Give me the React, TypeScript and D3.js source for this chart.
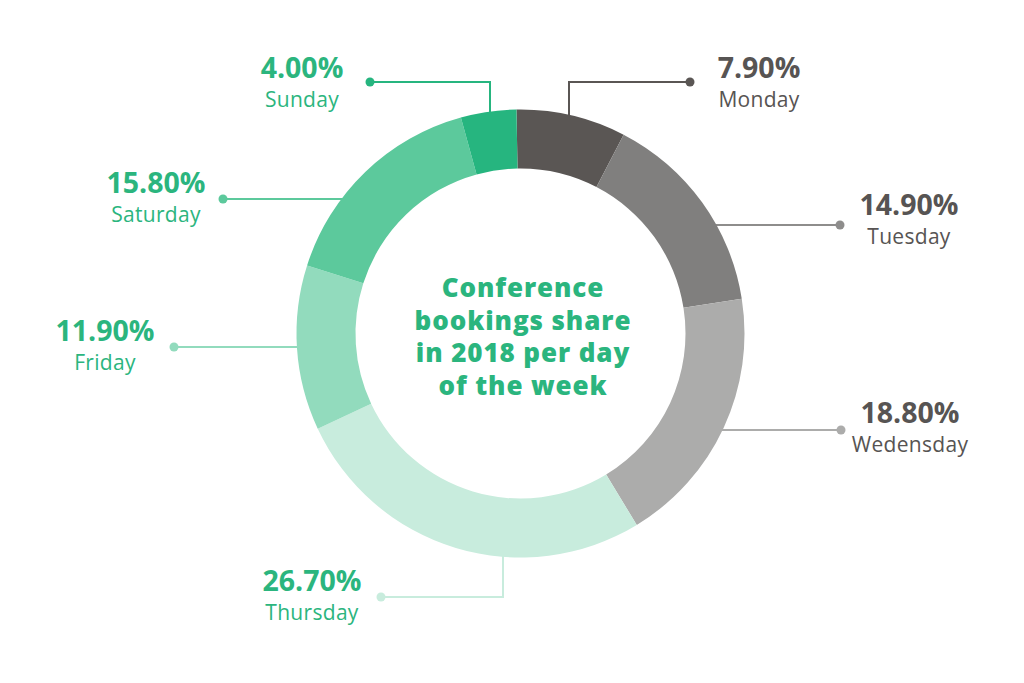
import React from "react";
import * as d3 from "d3";

const days = ["Monday", "Tuesday", "Wedensday", "Thursday", "Friday", "Saturday", "Sunday"];
const shares = [7.9, 14.9, 18.8, 26.7, 11.9, 15.8, 4.0];
const sliceColors = ["#5a5654", "#807f7e", "#acacab", "#c8ecdd", "#92dbbd", "#5cc99c", "#26b57f"];
const lineColors = ["#5a5654", "#8e8d8c", "#acacab", "#c8ecdd", "#92dbbd", "#5cc99c", "#26b57f"];
const textColors = ["#575453", "#575453", "#575453", "#2bb57e", "#2bb57e", "#2bb57e", "#2bb57e"];
const titleLines = ["Conference", "bookings share", "in 2018 per day", "of the week"];

// layout: leader-line dot position, elbow, and label center
type Leader = { dot: [number, number]; elbowX?: number; vertical?: boolean; label: [number, number] };
const leaders: Leader[] = [
  { dot: [690, 82], elbowX: 569, vertical: true, label: [759, 78] },
  { dot: [840, 225], label: [909, 215] },
  { dot: [841, 430], label: [910, 423] },
  { dot: [381, 597], elbowX: 503, vertical: true, label: [312, 591] },
  { dot: [174, 347], label: [105, 341] },
  { dot: [223, 199], label: [156, 193] },
  { dot: [370, 82], elbowX: 490, vertical: true, label: [302, 78] },
];

const W = 1024;
const H = 683;
const cx = 520.5;
const cy = 333.5;
const R = 224;
const r = 165;

export default function App() {
  const pie = d3
    .pie<number>()
    .sort(null)
    .value((d) => d)
    .startAngle(-0.018)
    .endAngle(-0.018 + Math.PI * 2);
  const arcs = pie(shares);
  const arcGen = d3.arc<d3.PieArcDatum<number>>().innerRadius(r).outerRadius(R);
  const mid = (R + r) / 2;

  return (
    <svg
      width={W}
      height={H}
      style={{ position: "absolute", left: 0, top: 0, background: "#fff" }}
    >
      {leaders.map((l, i) => {
        let d: string;
        if (l.vertical && l.elbowX !== undefined) {
          const dx = l.elbowX - cx;
          const sy = l.dot[1] < cy ? cy - Math.sqrt(mid * mid - dx * dx) : cy + Math.sqrt(mid * mid - dx * dx);
          d = `M${l.elbowX},${sy}V${l.dot[1]}H${l.dot[0]}`;
        } else {
          const dy = l.dot[1] - cy;
          const sx = l.dot[0] > cx ? cx + Math.sqrt(mid * mid - dy * dy) : cx - Math.sqrt(mid * mid - dy * dy);
          d = `M${sx},${l.dot[1]}H${l.dot[0]}`;
        }
        return (
          <g key={"l" + i}>
            <path d={d} fill="none" stroke={lineColors[i]} strokeWidth={2} />
            <circle cx={l.dot[0]} cy={l.dot[1]} r={4.5} fill={lineColors[i]} />
          </g>
        );
      })}
      <g transform={`translate(${cx},${cy})`}>
        {arcs.map((a, i) => (
          <path key={"a" + i} d={arcGen(a) || ""} fill={sliceColors[i]} />
        ))}
      </g>
      {leaders.map((l, i) => (
        <g key={"t" + i} textAnchor="middle" fill={textColors[i]}>
          <text x={l.label[0]} y={l.label[1]} fontFamily="'Open Sans', sans-serif" fontWeight={700} fontSize={28.5}>
            {shares[i].toFixed(2) + "%"}
          </text>
          <text x={l.label[0]} y={l.label[1] + 28.5} fontFamily="'Open Sans', sans-serif" fontWeight={400} fontSize={21} letterSpacing={0.3}>
            {days[i]}
          </text>
        </g>
      ))}
      <g textAnchor="middle" fill="#2bb57e" fontFamily="'Open Sans', sans-serif" fontWeight={800} fontSize={26}>
        {titleLines.map((t, i) => (
          <text key={"h" + i} x={cx + 2.5} y={297 + i * 32.7} letterSpacing={0.9}>
            {t}
          </text>
        ))}
      </g>
    </svg>
  );
}
